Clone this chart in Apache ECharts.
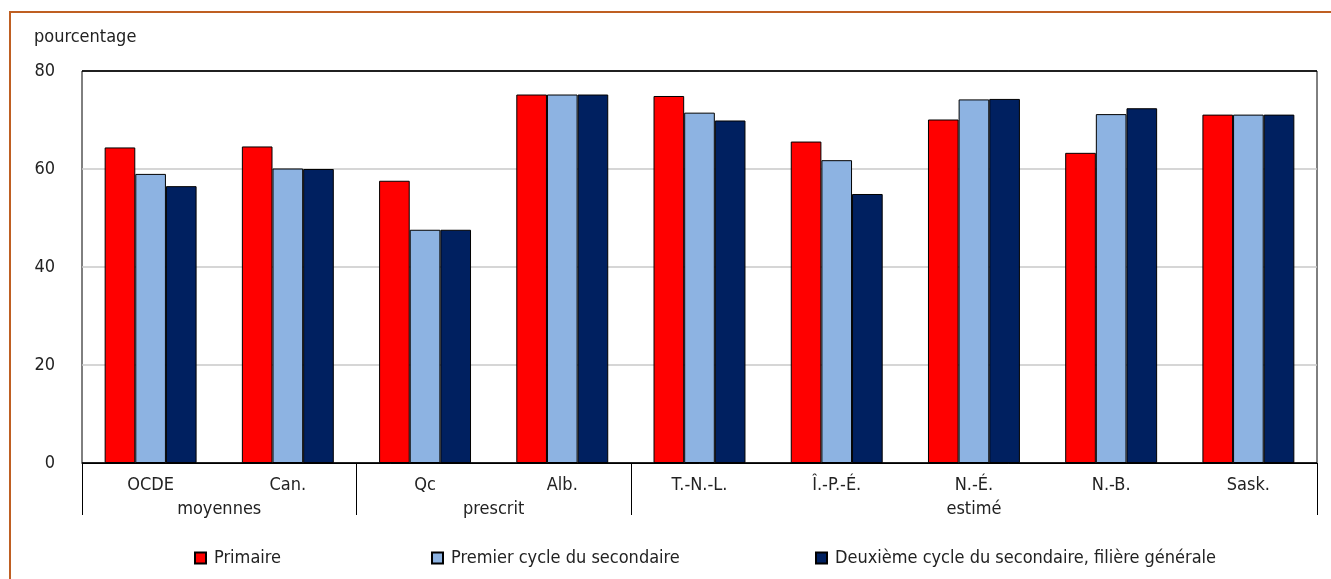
<!DOCTYPE html>
<html><head><meta charset="utf-8">
<script src="https://cdn.jsdelivr.net/npm/echarts@6/dist/echarts.min.js"></script>
<style>
html,body{margin:0;padding:0;background:#fff;}
#frame{position:absolute;left:9px;top:11px;width:1400px;height:700px;border-top:2px solid #BF5F22;border-left:2px solid #BF5F22;}
#chart{position:absolute;left:0;top:0;width:1331px;height:579px;}
</style></head>
<body>
<div id="frame"></div>
<div id="chart"></div>
<script>
var categories = ['OCDE','Can.','Qc','Alb.','T.-N.-L.','Î.-P.-É.','N.-É.','N.-B.','Sask.'];
var groupLabels = ['moyennes','prescrit','estimé'];
var groupCenters = [0.5, 2.5, 6];
var groupBounds = [-0.5, 1.5, 3.5, 8.5];
var seriesNames = ['Primaire','Premier cycle du secondaire','Deuxième cycle du secondaire, filière générale'];
var primaire = [64.4, 64.6, 57.6, 75.2, 74.9, 65.6, 70.1, 63.3, 71.1];
var premierCycle = [59.0, 60.1, 47.6, 75.2, 71.5, 61.8, 74.2, 71.2, 71.1];
var deuxiemeCycle = [56.5, 60.0, 47.6, 75.2, 69.9, 54.9, 74.3, 72.4, 71.1];
var yTicks = [0, 20, 40, 60, 80];
var colors = ['#FF0000', '#8DB3E2', '#002060'];

var FONT = "'Liberation Sans Narrow', 'Arial Narrow', 'DejaVu Sans Condensed', sans-serif";
var chart = echarts.init(document.getElementById('chart'), null, {renderer:'canvas'});
var data = [primaire, premierCycle, deuxiemeCycle];
var legendLefts = [194, 431, 815];
chart.setOption({
  backgroundColor: 'transparent',
  animation: false,
  textStyle: {fontFamily: FONT, color: '#222'},
  title: {text: 'pourcentage', left: 29, top: 23, textStyle: {fontFamily: FONT, fontSize: 18, fontWeight: 'normal', color: '#222'}},
  legend: seriesNames.map(function(n, i){
    return {data:[n], left: legendLefts[i], top: 549, padding: 0, icon:'rect', itemWidth: 11, itemHeight: 11, itemGap: 8,
      textStyle:{fontFamily: FONT, fontSize: 18, color:'#222', padding:[0,0,0,3]}};
  }),
  grid: {left: 82, right: 14, top: 71, bottom: 116, show: true, borderColor: '#000', borderWidth: 1, backgroundColor: 'transparent'},
  xAxis: [{
    type: 'category', data: categories,
    axisLine: {show: true, lineStyle: {color: '#000', width: 1}},
    axisTick: {show: false},
    axisLabel: {margin: 13, fontSize: 18, color: '#222', fontFamily: FONT}
  }, {
    type: 'value', min: -0.5, max: 8.5, interval: 0.5, position: 'bottom',
    axisLine: {show: false},
    splitLine: {show: false},
    axisTick: {show: true, customValues: groupBounds, length: 52, lineStyle: {color: '#000', width: 1}},
    axisLabel: {customValues: groupCenters, margin: 37, fontSize: 18, color: '#222', fontFamily: FONT,
      formatter: function(v){ var i = groupCenters.indexOf(v); return i >= 0 ? groupLabels[i] : ''; }}
  }],
  yAxis: {
    type: 'value', min: 0, max: 80, interval: 20,
    axisLine: {show: false}, axisTick: {show: false},
    axisLabel: {margin: 27, fontSize: 18, color: '#222', fontFamily: FONT},
    splitLine: {show: true, lineStyle: {color: yTicks.map(function(t, k){ return (k === 0 || k === yTicks.length - 1) ? '#000' : '#c8c8c8'; }), width: 1.5}}
  },
  series: data.map(function(d, i){
    return {name: seriesNames[i], type: 'bar', data: d, xAxisIndex: 0,
      barGap: '0%', barCategoryGap: '33%',
      itemStyle: {color: colors[i], borderColor: '#000', borderWidth: 1}};
  })
});
</script>
</body></html>
